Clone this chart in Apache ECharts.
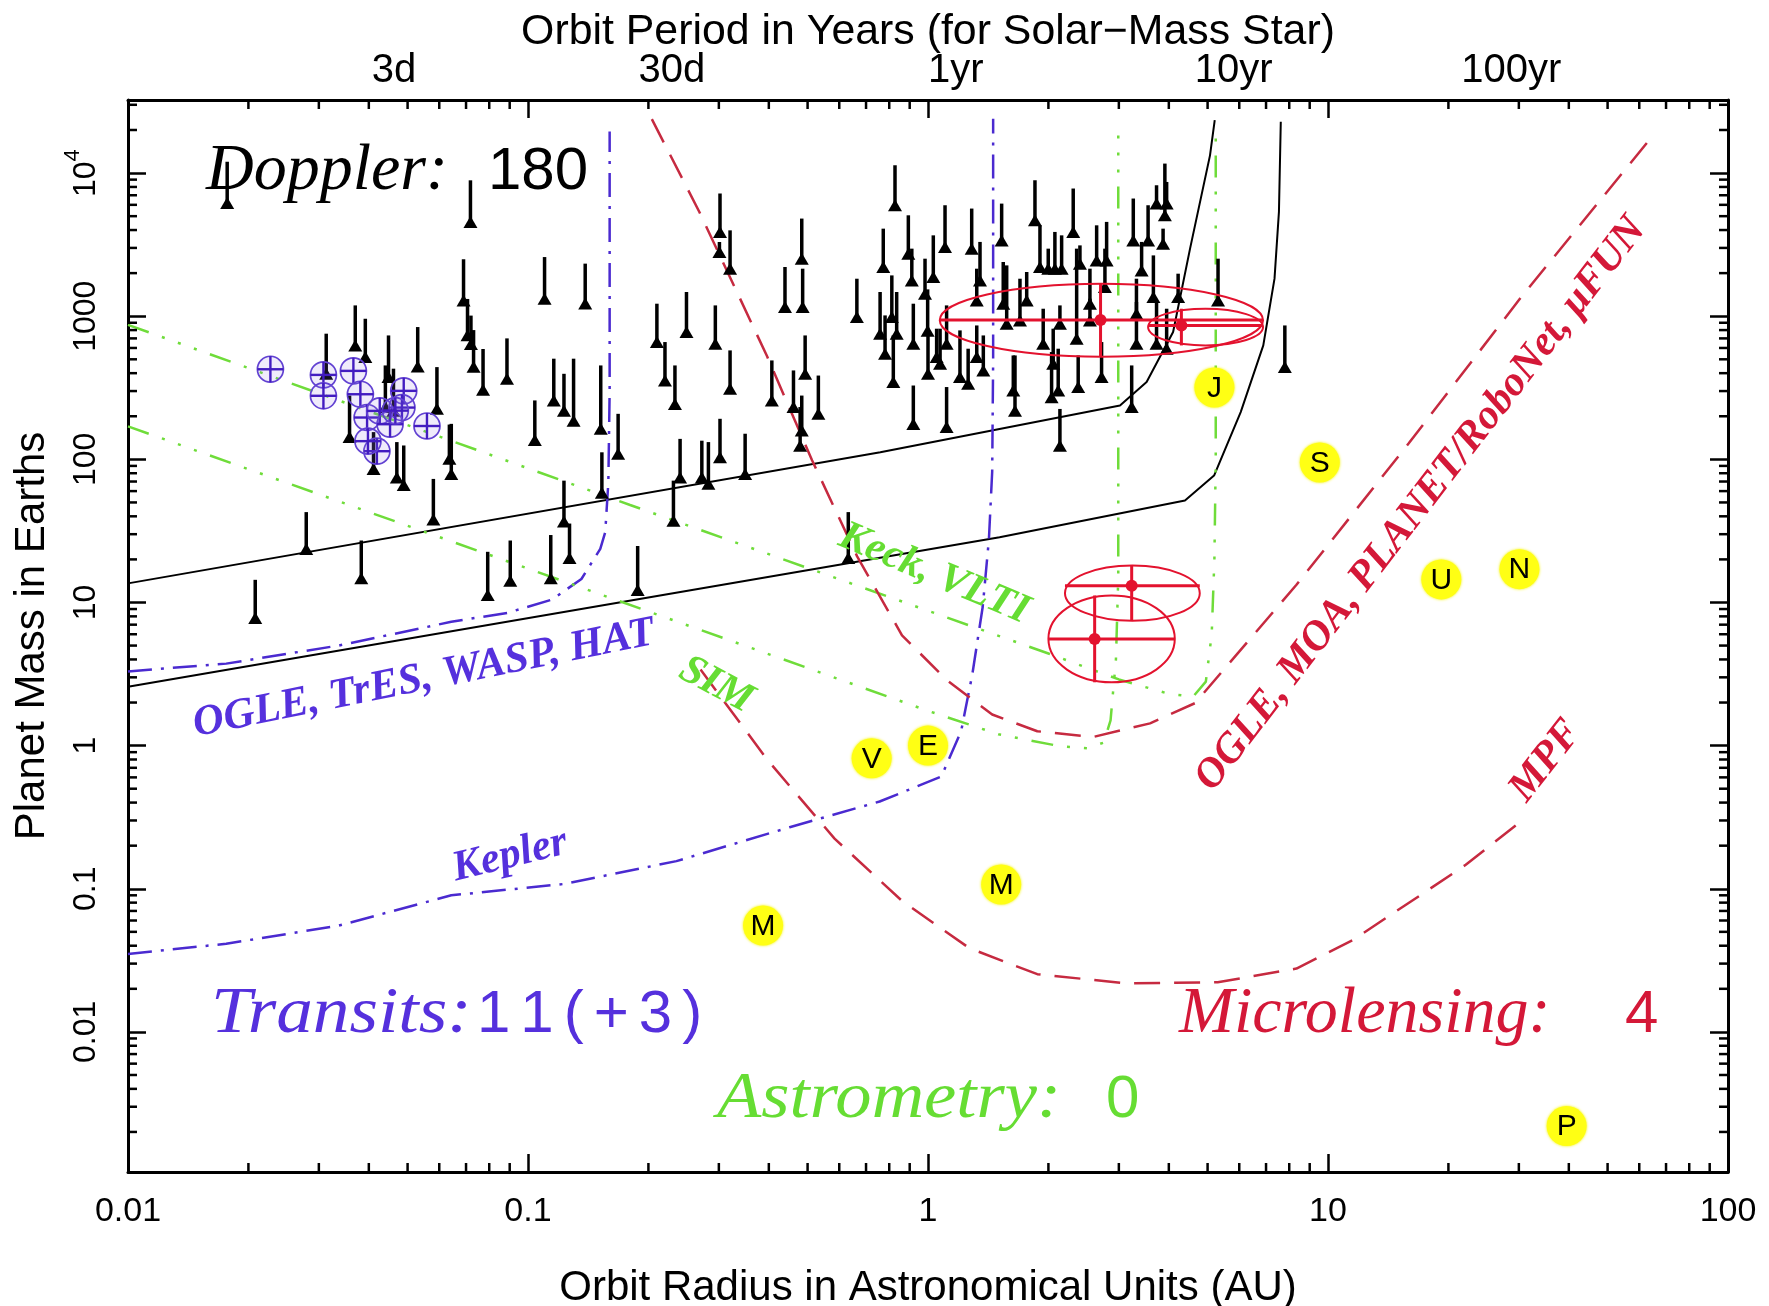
<!DOCTYPE html>
<html>
<head>
<meta charset="utf-8">
<script src="https://cdn.jsdelivr.net/npm/echarts@6/dist/echarts.min.js"></script>
<style>
  html, body { margin: 0; padding: 0; background: #ffffff; }
  #chart { width: 1769px; height: 1306px; }
</style>
</head>
<body>
<div id="chart"></div>
<script>
// ---------------- data ----------------
// Radial-velocity planets: [orbit radius (AU), m sin i (Earth masses), upper mass (Earth masses)]
const dopplerPlanets = [
  [0.0177, 5700, 12000], [0.0718, 4200, 8900], [0.069, 1190, 2500], [0.0706, 680, 1320],
  [0.072, 590, 1010], [0.0731, 410, 800], [0.0772, 283, 590], [0.0886, 337, 700],
  [0.110, 1220, 2590], [0.139, 1130, 2330], [0.116, 238, 505], [0.123, 202, 396],
  [0.130, 172, 505], [0.152, 151, 453], [0.168, 101, 208], [0.104, 126, 258],
  [0.153, 54, 112], [0.123, 34, 71], [0.037, 577, 1190], [0.0392, 478, 960],
  [0.0313, 366, 755], [0.0448, 347, 734], [0.053, 411, 840], [0.0592, 208, 441],
  [0.0358, 132, 279], [0.0411, 79, 155], [0.047, 69, 132], [0.0489, 61, 125],
  [0.0643, 73, 177], [0.0636, 93, 175], [0.058, 35, 73], [0.044, 214, 453],
  [0.0461, 202, 430], [0.0208, 7.2, 14.4], [0.0279, 21.8, 42.8], [0.0383, 13.6, 27.1],
  [0.0793, 10.4, 22.6], [0.0903, 13.1, 27.1], [0.114, 13.6, 29.6], [0.127, 18.9, 35.6],
  [0.188, 11.3, 24.8], [0.632, 18.9, 42.8],
  [0.210, 609, 1223], [0.220, 328, 660], [0.233, 225, 453], [0.249, 715, 1476],
  [0.294, 593, 1190], [0.302, 3580, 7200], [0.301, 2594, 3300], [0.320, 1982, 3980],
  [0.320, 287, 577], [0.302, 95.5, 192], [0.349, 73, 151], [0.240, 69, 139],
  [0.272, 69, 135], [0.2825, 62.2, 132], [0.231, 34.4, 71], [0.407, 238, 491],
  [0.439, 1070, 2208], [0.4835, 2328, 4810], [0.486, 1070, 2148], [0.461, 214, 418],
  [0.4835, 147, 279], [0.493, 366, 734], [0.532, 192, 385], [0.479, 115, 232],
  [0.664, 911, 1828], [0.827, 5495, 11340], [0.773, 2037, 4090], [0.759, 696, 1476],
  [0.781, 505, 1013], [0.819, 320, 734], [0.812, 911, 1928], [0.835, 696, 1476],
  [0.893, 2523, 5070], [0.911, 1642, 2965], [0.919, 593, 1223], [0.919, 163, 328],
  [0.983, 1326, 2523], [1.00, 366, 734], [1.031, 1734, 3672], [1.051, 478, 818],
  [1.113, 155, 320], [1.103, 2813, 5960], [1.113, 593, 1190], [1.202, 347, 796],
  [1.26, 311, 593], [1.286, 2735, 5650], [1.349, 1642, 3304], [1.375, 385, 734],
  [1.324, 1190, 2148], [1.072, 430, 818],
  [0.998, 730, 1540], [1.324, 478, 862], [1.573, 818, 2265], [1.765, 1190, 2037],
  [2.353, 643, 2965], [1.528, 3125, 6120], [1.542, 1128, 2393], [1.634, 279, 532],
  [1.650, 202, 532], [1.698, 862, 1828], [1.851, 4315, 8910], [1.905, 2037, 4315],
  [1.998, 1982, 2965], [2.076, 1982, 3880], [2.158, 1982, 3672], [2.307, 3580, 7800],
  [2.398, 2148, 3125], [2.137, 818, 1190], [2.056, 430, 818], [2.116, 279, 593],
  [2.137, 115, 225], [2.037, 251, 562], [1.941, 593, 1128], [2.374, 295, 532],
  [2.54, 1128, 2148], [2.64, 2265, 4315], [2.716, 347, 660], [2.769, 1476, 2965],
  [2.796, 2265, 4560], [2.54, 862, 1326], [3.26, 3125, 6640], [3.42, 1928, 3304],
  [3.32, 960, 1828], [3.32, 593, 1257], [3.23, 214, 453], [3.66, 1257, 2660],
  [3.727, 5650, 8220], [3.55, 3125, 5960], [3.87, 2965, 4090], [3.91, 4677, 11650],
  [3.95, 5650, 8670], [3.727, 593, 1257], [3.95, 547, 1128], [4.22, 1257, 1982],
  [5.31, 1190, 2523], [7.80, 407, 862]
];

// Transiting planets: [orbit radius (AU), mass (Earth masses)]
const transitPlanets = [
  [0.0227, 426], [0.0308, 389], [0.0308, 278], [0.0366, 415], [0.0381, 285],
  [0.0396, 196], [0.0419, 114], [0.0489, 301], [0.0484, 230], [0.0559, 171],
  [0.0426, 218], [0.0452, 176], [0.0466, 219], [0.0398, 134]
];

// Microlensing planets: [a, m, aLow, aHigh, mLow, mHigh]
const lensingPlanets = [
  [2.70, 940, 1.07, 6.88, 521, 1687],
  [4.30, 862, 3.55, 6.88, 625, 1128],
  [3.23, 13.1, 2.20, 4.78, 7.46, 18.1],
  [2.61, 5.56, 2.00, 4.14, 2.77, 11.2]
];

// Solar System planets
const solarNames = ['M', 'V', 'E', 'M', 'J', 'S', 'U', 'N', 'P'];
const solarA = [0.387, 0.723, 1.0, 1.524, 5.20, 9.54, 19.2, 30.1, 39.5];
const solarM = [0.0553, 0.815, 1.0, 0.107, 318, 95.2, 14.5, 17.1, 0.0022];

// Sensitivity curves: [a (AU), m (Earth masses)]
const dopplerLimitUpper = [[0.01, 13.6], [0.76, 112], [3.02, 238], [3.52, 347], [4.10, 775], [4.52, 2965], [5.07, 13300], [5.21, 23400]];
const dopplerLimitLower = [[0.01, 2.58], [1.51, 28.6], [4.39, 51.5], [5.19, 77], [6.05, 214], [6.89, 625], [7.35, 1830], [7.54, 5380], [7.62, 22800]];
const transitGround = [[0.01, 3.3], [0.0176, 3.74], [0.0336, 5.0], [0.0643, 7.33], [0.089, 8.47], [0.115, 10.5], [0.136, 14.6], [0.1516, 23.7], [0.156, 31], [0.1588, 69], [0.160, 300], [0.160, 19500]];
const transitKepler = [[0.01, 0.035], [0.0176, 0.0413], [0.0336, 0.0552], [0.0643, 0.090], [0.123, 0.108], [0.235, 0.156], [0.451, 0.269], [0.757, 0.407], [1.08, 0.608], [1.21, 1.26], [1.29, 3.12], [1.37, 9.3], [1.42, 27.6], [1.447, 82], [1.455, 500], [1.455, 24000]];
const astrometryKeck = [[0.01, 870], [0.18, 48], [2.0, 4.4], [3.0, 2.9], [4.0, 2.3], [4.6, 2.2], [4.95, 2.8], [5.12, 6], [5.2, 20], [5.24, 100], [5.24, 19500]];
const astrometrySim = [[0.01, 170], [1.0, 1.75], [1.5, 1.2], [2.14, 0.99], [2.5, 0.96], [2.75, 1.05], [2.86, 1.5], [2.95, 4], [2.99, 15], [2.99, 19500]];
const lensingGround = [[0.204, 23800], [0.268, 5370], [0.396, 525], [0.513, 98.6], [0.665, 21], [0.861, 5.9], [1.117, 2.85], [1.447, 1.65], [1.876, 1.26], [2.59, 1.15], [3.59, 1.43], [4.65, 1.98], [8.34, 13.3], [15.9, 129], [30.5, 1375], [63.1, 16600]];
const lensingMpf = [[0.27, 3.4], [0.396, 0.80], [0.584, 0.224], [0.861, 0.0823], [1.27, 0.0384], [1.876, 0.0253], [3.15, 0.0218], [5.30, 0.0222], [8.34, 0.0277], [11.5, 0.0436], [17.0, 0.090], [22.1, 0.147], [29.5, 0.278]];

// Axis ticks and labels
const xTickValues = [0.01, 0.1, 1, 10, 100];
const xTickLabels = ['0.01', '0.1', '1', '10', '100'];
const yTickValues = [0.01, 0.1, 1, 10, 100, 1000, 10000];
const yTickLabels = ['0.01', '0.1', '1', '10', '100', '1000', '{b|10}{s|4}'];
const periodYears = [3 / 365.25, 30 / 365.25, 1, 10, 100];
const periodLabels = ['3d', '30d', '1yr', '10yr', '100yr'];

// ---------------- chart ----------------
const X_MIN = 0.01, X_MAX = 100;
const Y_MIN = 0.00105, Y_MAX = 32400;

const RED = '#c62a40', RED_MARK = '#e3122e', BLUE = '#4a2ad0', GREEN = '#6fdc3a';
const SANS = '"Liberation Sans", Arial, sans-serif';
const SERIF = '"Liberation Serif", "Times New Roman", serif';

function lookupLabel(values, labels) {
  return function (v) {
    for (let i = 0; i < values.length; i++) {
      if (Math.abs(Math.log10(v) - Math.log10(values[i])) < 1e-6) return labels[i];
    }
    return '';
  };
}

// minor ticks at 2..9 of each decade
const xMinor = [], yMinor = [];
for (let k = -2; k <= 1; k++) for (let d = 2; d <= 9; d++) xMinor.push(d * Math.pow(10, k));
for (let k = -3; k <= 4; k++) for (let d = 2; d <= 9; d++) {
  const v = d * Math.pow(10, k);
  if (v > Y_MIN && v < Y_MAX) yMinor.push(v);
}

function frameAxis(extra) {
  return Object.assign({
    axisLine: { show: true, onZero: false, lineStyle: { color: '#000', width: 3 } },
    axisTick: { show: true, inside: true, length: 18, lineStyle: { color: '#000', width: 2.5 } },
    splitLine: { show: false },
    minorTick: { show: false }
  }, extra);
}

function curve(data, color, dash, width) {
  return {
    type: 'line', data: data, xAxisIndex: 0, yAxisIndex: 0,
    symbol: 'none', showSymbol: false, silent: true, smooth: false, z: 2,
    lineStyle: { color: color, width: width, type: dash, cap: 'butt' }
  };
}

const DASH_RED = [26, 14];
const DASH_BLUE = [24, 9, 3, 9];
const DASH_GREEN = [22, 14, 3, 14, 3, 14, 3, 14];

const series = [
  curve(dopplerLimitUpper, '#000', 'solid', 2),
  curve(dopplerLimitLower, '#000', 'solid', 2),
  curve(transitGround, BLUE, DASH_BLUE, 2.5),
  curve(transitKepler, BLUE, DASH_BLUE, 2.5),
  curve(astrometryKeck, GREEN, DASH_GREEN, 2.5),
  curve(astrometrySim, GREEN, DASH_GREEN, 2.5),
  curve(lensingGround, RED, DASH_RED, 2.5),
  curve(lensingMpf, RED, DASH_RED, 2.5),

  // minor ticks on all four sides of the frame
  {
    type: 'custom', silent: true, z: 6, clip: false,
    data: xMinor.map(v => [v, 1, 0]).concat(yMinor.map(v => [1, v, 1])),
    renderItem: function (params, api) {
      const cs = params.coordSys, L = 9;
      const st = { stroke: '#000', lineWidth: 2.5 };
      if (api.value(2) === 0) {
        const x = api.coord([api.value(0), 1])[0];
        return { type: 'group', children: [
          { type: 'line', shape: { x1: x, y1: cs.y + cs.height, x2: x, y2: cs.y + cs.height - L }, style: st },
          { type: 'line', shape: { x1: x, y1: cs.y, x2: x, y2: cs.y + L }, style: st }
        ] };
      }
      const y = api.coord([1, api.value(1)])[1];
      return { type: 'group', children: [
        { type: 'line', shape: { x1: cs.x, y1: y, x2: cs.x + L, y2: y }, style: st },
        { type: 'line', shape: { x1: cs.x + cs.width, y1: y, x2: cs.x + cs.width - L, y2: y }, style: st }
      ] };
    }
  },

  // orbital period labels along the top edge (P^2 = a^3 for one solar mass)
  {
    type: 'custom', silent: true, z: 6, clip: false,
    data: periodYears.map((p, i) => [Math.pow(p, 2 / 3), 1, i]),
    renderItem: function (params, api) {
      const cs = params.coordSys;
      const x = api.coord([api.value(0), 1])[0];
      return {
        type: 'text', x: x, y: cs.y - 29,
        style: {
          text: periodLabels[api.value(2)], fill: '#000', fontSize: 40, fontFamily: SANS,
          align: 'left', verticalAlign: 'middle', textAlign: 'left', textVerticalAlign: 'middle'
        }
      };
    }
  },

  // Solar System planets
  {
    type: 'custom', silent: true, z: 3,
    data: solarA.map((a, i) => [a, solarM[i], i]),
    renderItem: function (params, api) {
      const p = api.coord([api.value(0), api.value(1)]);
      return { type: 'group', children: [
        { type: 'circle', shape: { cx: p[0], cy: p[1], r: 20 }, style: { fill: '#ffff14', shadowBlur: 3, shadowColor: '#f4f400' } },
        { type: 'text', x: p[0], y: p[1] + 1, style: {
          text: solarNames[api.value(2)], fill: '#000', fontSize: 30, fontFamily: SANS,
          align: 'center', verticalAlign: 'middle', textAlign: 'center', textVerticalAlign: 'middle' } }
      ] };
    }
  },

  // Doppler detections: triangle at m sin i, bar up to the upper mass
  {
    type: 'custom', silent: true, z: 4,
    data: dopplerPlanets,
    renderItem: function (params, api) {
      const b = api.coord([api.value(0), api.value(1)]);
      const t = api.coord([api.value(0), api.value(2)]);
      return { type: 'group', children: [
        { type: 'line', shape: { x1: b[0], y1: b[1] - 4, x2: t[0], y2: t[1] }, style: { stroke: '#000', lineWidth: 3.5 } },
        { type: 'polygon', shape: { points: [[b[0] - 7, b[1] + 1], [b[0] + 7, b[1] + 1], [b[0], b[1] - 11]] }, style: { fill: '#000' } }
      ] };
    }
  },

  // transiting planets: circle with a cross
  {
    type: 'custom', silent: true, z: 5,
    data: transitPlanets,
    renderItem: function (params, api) {
      const p = api.coord([api.value(0), api.value(1)]), r = 13;
      return { type: 'group', children: [
        { type: 'circle', shape: { cx: p[0], cy: p[1], r: r }, style: { fill: 'rgba(140,110,230,0.14)', stroke: '#6242d2', lineWidth: 1.7 } },
        { type: 'line', shape: { x1: p[0] - r, y1: p[1], x2: p[0] + r, y2: p[1] }, style: { stroke: '#421cc0', lineWidth: 2.4 } },
        { type: 'line', shape: { x1: p[0], y1: p[1] - r, x2: p[0], y2: p[1] + r }, style: { stroke: '#421cc0', lineWidth: 2.4 } }
      ] };
    }
  },

  // microlensing planets: error ellipse, error bars and centre dot
  {
    type: 'custom', silent: true, z: 7,
    data: lensingPlanets,
    renderItem: function (params, api) {
      const a = api.value(0), m = api.value(1);
      const aLo = api.value(2), aHi = api.value(3), mLo = api.value(4), mHi = api.value(5);
      const c = api.coord([a, m]);
      const pL = api.coord([aLo, m]), pR = api.coord([aHi, m]);
      const pB = api.coord([a, mLo]), pT = api.coord([a, mHi]);
      const ctr = api.coord([Math.sqrt(aLo * aHi), Math.sqrt(mLo * mHi)]);
      const rx = (pR[0] - pL[0]) / 2, ry = (pB[1] - pT[1]) / 2;
      return { type: 'group', children: [
        { type: 'ellipse', shape: { cx: ctr[0], cy: ctr[1], rx: rx, ry: ry }, style: { fill: 'none', stroke: RED_MARK, lineWidth: 2 } },
        { type: 'line', shape: { x1: pL[0], y1: c[1], x2: pR[0], y2: c[1] }, style: { stroke: RED_MARK, lineWidth: 3 } },
        { type: 'line', shape: { x1: c[0], y1: pT[1], x2: c[0], y2: pB[1] }, style: { stroke: RED_MARK, lineWidth: 3 } },
        { type: 'circle', shape: { cx: c[0], cy: c[1], r: 6 }, style: { fill: RED_MARK } }
      ] };
    }
  }
];

function txt(x, y, text, opts) {
  return {
    type: 'text', x: x, y: y, rotation: (opts.rot || 0) * Math.PI / 180,
    scaleX: opts.sx || 1, silent: true, z: 20,
    style: {
      text: text, fill: opts.color || '#000',
      fontSize: opts.size, fontFamily: opts.family || SANS,
      fontStyle: opts.italic ? 'italic' : 'normal', fontWeight: opts.bold ? 'bold' : 'normal',
      align: opts.align || 'center', verticalAlign: 'middle',
      textAlign: opts.align || 'center', textVerticalAlign: 'middle',
      rich: opts.rich
    }
  };
}

// widely spaced numerals for the transit count
const spacedDigits = { c: { fontSize: 60, fontFamily: SANS, color: '#5530dd', padding: [0, 5, 0, 5] } };
const transitCount = '11(+3)'.split('').map(ch => '{c|' + ch + '}').join('');

const graphic = [
  // axis titles
  txt(928, 32, 'Orbit Period in Years (for Solar\u2212Mass Star)', { size: 42, sx: 1.02 }),
  txt(928, 1288, 'Orbit Radius in Astronomical Units (AU)', { size: 42 }),
  txt(32, 636, 'Planet Mass in Earths', { size: 42, rot: 90 }),

  // method totals
  txt(206, 172, 'Doppler:', { size: 66, family: SERIF, italic: true, align: 'left' }),
  txt(488, 172, '180', { size: 60, align: 'left' }),
  txt(211, 1015, 'Transits:', { size: 66, family: SERIF, italic: true, align: 'left', color: '#5530dd', sx: 1.11 }),
  txt(472, 1015, transitCount, { size: 60, align: 'left', color: '#5530dd', rich: spacedDigits }),
  txt(717, 1100, 'Astrometry:', { size: 66, family: SERIF, italic: true, align: 'left', color: '#66dd33', sx: 1.1 }),
  txt(1106, 1100, '0', { size: 60, align: 'left', color: '#66dd33' }),
  txt(1179, 1015, 'Microlensing:', { size: 66, family: SERIF, italic: true, align: 'left', color: '#d41838' }),
  txt(1625, 1015, '4', { size: 60, align: 'left', color: '#d41838' }),

  // survey labels along the sensitivity curves
  txt(424, 679, 'OGLE, TrES, WASP, HAT', { size: 43, family: SERIF, italic: true, bold: true, rot: 11.4, color: '#5530dd' }),
  txt(510, 856, 'Kepler', { size: 43, family: SERIF, italic: true, bold: true, rot: 13.8, color: '#5530dd' }),
  txt(716, 685, 'SIM', { size: 42, family: SERIF, italic: true, bold: true, rot: -28, color: '#66dd33' }),
  txt(934, 574, 'Keck, VLTI', { size: 42, family: SERIF, italic: true, bold: true, rot: -23, color: '#66dd33' }),
  txt(1421, 504, 'OGLE, MOA, PLANET/RoboNet, \u03bcFUN', { size: 42, family: SERIF, italic: true, bold: true, rot: 52.4, color: '#d41838' }),
  txt(1546, 761, 'MPF', { size: 42, family: SERIF, italic: true, bold: true, rot: 52, color: '#d41838' })
];

const option = {
  animation: false,
  backgroundColor: '#ffffff',
  textStyle: { fontFamily: SANS },
  grid: { left: 128, right: 41, top: 100, bottom: 134, containLabel: false, outerBoundsMode: 'none' },
  xAxis: [
    frameAxis({
      type: 'log', logBase: 10, min: X_MIN, max: X_MAX, position: 'bottom',
      axisLabel: { show: true, margin: 23, color: '#000', fontSize: 34, fontFamily: SANS,
        formatter: lookupLabel(xTickValues, xTickLabels) }
    }),
    frameAxis({
      type: 'log', logBase: 10, min: X_MIN, max: X_MAX, position: 'top',
      axisLabel: { show: false }
    })
  ],
  yAxis: [
    frameAxis({
      type: 'log', logBase: 10, min: Y_MIN, max: Y_MAX, position: 'left',
      axisLabel: {
        show: true, rotate: 90, margin: 26, color: '#000', fontSize: 32, fontFamily: SANS,
        formatter: lookupLabel(yTickValues, yTickLabels),
        rich: {
          b: { fontSize: 32, fontFamily: SANS, color: '#000', lineHeight: 40, verticalAlign: 'bottom' },
          s: { fontSize: 22, fontFamily: SANS, color: '#000', lineHeight: 40, verticalAlign: 'top' }
        }
      }
    }),
    frameAxis({
      type: 'log', logBase: 10, min: Y_MIN, max: Y_MAX, position: 'right',
      axisLabel: { show: false }
    })
  ],
  series: series,
  graphic: graphic
};

const chart = echarts.init(document.getElementById('chart'), null, { renderer: 'canvas' });
chart.setOption(option);
</script>
</body>
</html>
